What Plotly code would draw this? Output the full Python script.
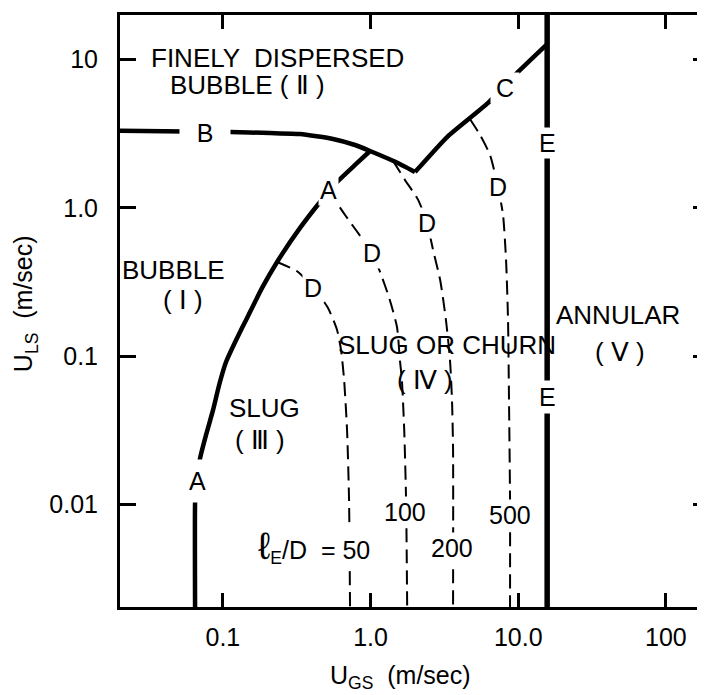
import math
import plotly.graph_objects as go

# ---------------- data ----------------
x_ticks = [0.1, 1.0, 10.0, 100.0]
x_tick_text = ["0.1", "1.0", "10.0", "100"]
y_ticks = [0.01, 0.1, 1.0, 10.0]
y_tick_text = ["0.01", "0.1", "1.0", "10"]

# Boundary A (bubble -> slug)
A_x = [0.0648, 0.0648, 0.0660, 0.0701, 0.0769, 0.0858, 0.0943, 0.105, 0.1229, 0.1458,
       0.1842, 0.2328, 0.333, 0.455, 0.593, 0.785, 0.992]
A_y = [0.002, 0.0102, 0.0139, 0.0205, 0.0294, 0.0433, 0.0638, 0.0912, 0.1284, 0.1807,
       0.2879, 0.431, 0.731, 1.094, 1.493, 1.944, 2.415]

# Boundary B (dispersed bubble)
B_x = [0.020, 0.112, 0.209, 0.333, 0.557, 0.785, 0.992, 1.47, 2.0]
B_y = [3.30, 3.24, 3.19, 3.14, 2.91, 2.65, 2.415, 2.04, 1.74]

# Boundary C
C_x = [2.0, 3.30, 6.25, 9.97, 15.7]
C_y = [1.74, 3.0, 5.09, 8.24, 12.7]

# Boundary E (annular)
E_x = [15.7, 15.7]
E_y = [0.002, 20.0]

# Boundaries D for l_E/D = 50, 100, 200, 500
D50_x = [0.233, 0.323, 0.421, 0.515, 0.593, 0.631, 0.662, 0.693, 0.715, 0.726]
D50_y = [0.431, 0.369, 0.279, 0.211, 0.150, 0.110, 0.069, 0.0318, 0.0107, 0.002]

D100_x = [0.515, 0.672, 0.890, 1.02, 1.16, 1.35, 1.51, 1.58, 1.63, 1.69, 1.74, 1.77]
D100_y = [1.32, 0.893, 0.607, 0.496, 0.369, 0.239, 0.157, 0.094, 0.069, 0.0318, 0.0107, 0.002]

D200_x = [1.42, 1.71, 2.10, 2.41, 2.65, 2.96, 3.24, 3.45, 3.56, 3.62, 3.62]
D200_y = [2.07, 1.54, 1.13, 0.790, 0.519, 0.326, 0.175, 0.094, 0.0506, 0.0233, 0.002]

D500_x = [4.72, 5.51, 6.44, 7.30, 7.89, 8.27, 8.53, 8.66, 8.80, 8.80]
D500_y = [3.95, 3.10, 2.27, 1.38, 0.894, 0.445, 0.175, 0.0506, 0.0107, 0.002]

x_range = [0.0201, 184.0]
y_range = [0.00203, 19.95]

FONT = "Liberation Sans"
FS = 25
FS_REGION = 26

fig = go.Figure()

thick = dict(color="black", width=4.5)
for xs, ys in [(A_x, A_y), (B_x, B_y), (C_x, C_y)]:
    fig.add_trace(go.Scatter(x=xs, y=ys, mode="lines",
                             line=dict(shape="spline", smoothing=0.5, **thick),
                             hoverinfo="skip"))
fig.add_trace(go.Scatter(x=E_x, y=E_y, mode="lines",
                         line=dict(color="black", width=5.5), hoverinfo="skip",
                         yaxis="y2"))

for xs, ys in [(D50_x, D50_y), (D100_x, D100_y), (D200_x, D200_y), (D500_x, D500_y)]:
    fig.add_trace(go.Scatter(x=xs, y=ys, mode="lines",
                             line=dict(color="black", width=2, dash="14px,7px",
                                       shape="spline", smoothing=0.6),
                             hoverinfo="skip"))

L = math.log10

def ann(text, x, y, bg=False, size=FS, **kw):
    d = dict(text=text, x=L(x), y=L(y), xref="x", yref="y", showarrow=False,
             font=dict(family=FONT, size=size, color="black"))
    if bg:
        d.update(bgcolor="white", borderpad=1)
    d.update(kw)
    fig.add_annotation(**d)

# curve letters (sitting in gaps of the lines)
ann("B", 0.0758, 3.19, bg=True, width=48)
ann("C", 8.14, 6.43, bg=True, width=26)
ann("A", 0.515, 1.32, bg=True)
ann("A", 0.0669, 0.0144, bg=True, height=40)
ann("E", 15.7, 2.73, bg=True)
ann("E", 15.7, 0.053, bg=True, height=30)
ann("D", 0.408, 0.288, bg=True)
ann("D", 1.02, 0.496, bg=True)
ann("D", 2.41, 0.790, bg=True)
ann("D", 7.30, 1.38, bg=True)

# regime names
ann("FINELY  DISPERSED", 0.236, 10.2, size=FS_REGION)
ann("BUBBLE ( Ⅱ )", 0.146, 6.73, size=FS_REGION)
ann("BUBBLE", 0.046, 0.380, size=FS_REGION)
ann("( Ⅰ )", 0.0538, 0.239, size=FS_REGION)
ann("SLUG", 0.190, 0.0447, size=FS_REGION)
ann("( Ⅲ )", 0.179, 0.0272, size=FS_REGION)
ann("SLUG OR CHURN", 3.30, 0.119, size=FS_REGION)
ann("( Ⅳ )", 2.34, 0.069, size=FS_REGION)
ann("ANNULAR", 47.4, 0.189, size=FS_REGION)
ann("( Ⅴ )", 48.9, 0.107, size=FS_REGION)

# l_E/D values
ann("<span style='font-size:38px'>ℓ</span><sub>E</sub>/D&nbsp;&nbsp;=&nbsp;50", 1.02, 0.0052,
    bg=True, xanchor="right")
ann("100", 1.71, 0.0089, bg=True)
ann("200", 3.56, 0.00508, bg=True)
ann("500", 8.81, 0.0085, bg=True)

# axis titles
fig.add_annotation(text="U<sub>GS</sub>&nbsp;&nbsp;(m/sec)", xref="paper", yref="paper",
                   x=0.479, y=-0.118, xanchor="center", yanchor="middle", showarrow=False,
                   font=dict(family=FONT, size=FS, color="black"))
fig.add_annotation(text="U<sub>LS</sub>&nbsp;&nbsp;(m/sec)", xref="paper", yref="paper",
                   x=-0.162, y=0.512, xanchor="center", yanchor="middle",
                   showarrow=False, textangle=-90,
                   font=dict(family=FONT, size=FS, color="black"))

axis_common = dict(type="log", showgrid=False, zeroline=False, ticks="inside",
                   tickcolor="black", tickwidth=2.5, automargin=False,
                   tickfont=dict(family=FONT, size=FS, color="black"))

# the page body adds an 8px offset, so the figure is sized to end at the window edge
fig.update_layout(
    width=697, height=687,
    margin=dict(l=112, r=0, t=7, b=88),
    paper_bgcolor="white", plot_bgcolor="white",
    showlegend=False,
    xaxis=dict(range=[L(x_range[0]), L(x_range[1])], tickvals=x_ticks, ticktext=x_tick_text,
               ticklen=14, showline=True, linecolor="black", linewidth=3, mirror="ticks",
               ticklabelstandoff=6, **axis_common),
    yaxis=dict(range=[L(y_range[0]), L(y_range[1])], tickvals=y_ticks, ticktext=y_tick_text,
               ticklen=16, showline=True, linecolor="black", linewidth=3, mirror=False,
               ticklabelstandoff=14, **axis_common),
    yaxis2=dict(range=[L(y_range[0]), L(y_range[1])], tickvals=y_ticks, overlaying="y",
                side="right", showticklabels=False, showline=False, ticklen=12,
                **axis_common),
)

fig.write_html("out.html")
